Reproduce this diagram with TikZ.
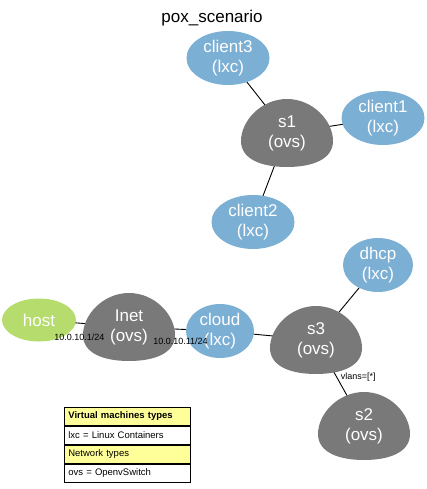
\documentclass[tikz,border=0pt]{standalone}
\usepackage{fontspec}
\setmainfont{Liberation Sans}
\usetikzlibrary{shapes.geometric,positioning,backgrounds}
\pgfdeclarelayer{edges}
\pgfsetlayers{edges,background,main}
\definecolor{lxcblue}{HTML}{7BAFD4}
\definecolor{ovsgray}{HTML}{797979}
\definecolor{hostgreen}{HTML}{B5DC6C}
\definecolor{legyellow}{HTML}{FFFF99}
\begin{document}
\begin{tikzpicture}[
  x=1pt, y=-1pt,
  font=\fontsize{17}{20}\selectfont,
  lxc/.style={ellipse, fill=lxcblue, text=white, align=center, inner sep=0pt, minimum width=83pt, minimum height=54pt},
  ovs/.style={ellipse, text=white, align=center, inner sep=0pt, minimum width=92pt, minimum height=68pt},
  hst/.style={ellipse, fill=hostgreen, text=white, inner sep=0pt, minimum width=74pt, minimum height=43pt},
  egg/.pic={\fill[ovsgray] (0,-34) .. controls (26,-34) and (46,-12) .. (46,8)
    .. controls (46,26) and (26,34) .. (0,34) .. controls (-26,34) and (-46,26) .. (-46,8)
    .. controls (-46,-12) and (-26,-34) .. (0,-34) -- cycle;},
  ln/.style={line width=0.9pt},
  ip/.style={font=\fontsize{9}{10}\selectfont, inner sep=1pt},
  leg/.style={draw, line width=0.7pt, font=\fontsize{9.5}{11}\selectfont, text width=118pt, inner xsep=4pt, inner ysep=0pt, minimum height=18.3pt, align=left},
  leghd/.style={leg, fill=legyellow}
]
\useasboundingbox (0,0) rectangle (426,489);
\node (title) at (212,18) {pox\_scenario};

\node[lxc] (client3) at (228,58) {client3\\(lxc)};
\node[ovs] (s1) at (287,133) {s1\\(ovs)};
\node[lxc] (client1) at (383,118) {client1\\(lxc)};
\node[lxc] (client2) at (253,222) {client2\\(lxc)};

\node[lxc, minimum width=70pt] (dhcp) at (378,265) {dhcp\\(lxc)};
\node[hst] (host) at (39,320) {host};
\node[ovs] (Inet) at (129,327) {Inet\\(ovs)};
\node[lxc, minimum width=68pt] (cloud) at (220,331) {cloud\\(lxc)};
\node[ovs] (s3) at (316,340) {s3\\(ovs)};
\node[ovs] (s2) at (364,426) {s2\\(ovs)};

\begin{pgfonlayer}{edges}
\draw[ln] (client3.center) -- (s1.center);
\draw[ln] (client1.center) -- (s1.center);
\draw[ln] (client2.center) -- (s1.center);
\draw[ln] (host.center) -- (Inet.center);
\draw[ln] (Inet.center) -- (cloud.center);
\draw[ln] (cloud.center) -- (s3.center);
\draw[ln] (dhcp.center) -- (s3.center);
\draw[ln] (s3.center) -- (s2.center);
\end{pgfonlayer}
\begin{pgfonlayer}{background}
\foreach \n in {s1,Inet,s3,s2} \path (\n.center) pic {egg};
\end{pgfonlayer}

\path (host) -- (Inet) node[ip, midway, below=10pt] {10.0.10.1/24};
\path (Inet) -- (cloud) node[ip, midway, below=8pt] {10.0.10.11/24};
\path (s3.center) -- (s2.center) node[ip, pos=0.43, right=3pt] {vlans=[*]};

\node[leghd, anchor=north west] (vmtypes) at (64,407) {\textbf{Virtual machines types}};
\node[leg, below=0pt of vmtypes] (lxcdef) {lxc = Linux Containers};
\node[leghd, below=0pt of lxcdef] (nettypes) {Network types};
\node[leg, below=0pt of nettypes] (ovsdef) {ovs = OpenvSwitch};
\end{tikzpicture}
\end{document}
